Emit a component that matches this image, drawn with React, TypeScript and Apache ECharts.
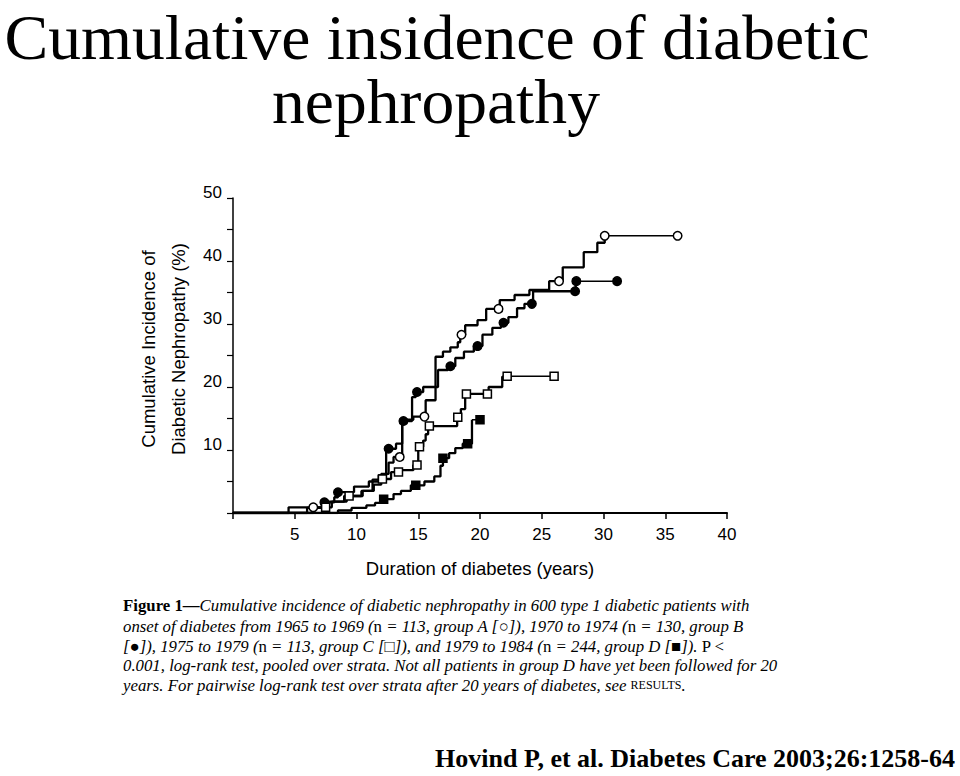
import React, { useEffect, useRef } from "react";
import * as echarts from "echarts";

// ---- Data (years, cumulative incidence %) ----
// Group A (1965-1969, open circles)
const aTimes = [0, 4.5, 7.4, 9.2, 10.4, 11.3, 12.0, 12.6, 13.0, 13.7, 14.6, 15.6, 16.4, 17.0, 17.6, 18.2, 18.4, 18.8, 19.8, 20.5, 21.6, 22.8, 24.0, 25.6, 26.7, 28.4, 29.5, 30.1];
const aValues = [0, 0.9, 1.8, 2.7, 3.5, 5.3, 6.2, 8.0, 8.9, 14.8, 15.3, 17.9, 24.8, 25.6, 26.3, 27.1, 28.3, 29.8, 30.6, 32.4, 33.8, 34.6, 35.4, 36.8, 39.0, 41.4, 42.9, 44.0];
const aMarkTimes = [6.5, 13.5, 15.5, 18.5, 21.5, 26.4, 30.1, 36.0];
const aMarkValues = [0.9, 8.9, 15.3, 28.3, 32.4, 36.8, 44.0, 44.0];

// Group B (1970-1974, filled circles)
const bTimes = [0, 6.0, 7.2, 8.2, 8.5, 9.8, 11.0, 11.8, 12.4, 13.2, 13.7, 14.5, 14.8, 15.4, 16.6, 17.4, 18.0, 18.7, 19.5, 20.2, 21.0, 21.7, 22.3, 23.0, 23.6, 24.3, 27.75];
const bValues = [0, 0.8, 1.7, 2.5, 3.3, 4.2, 5.0, 6.0, 10.2, 11.0, 14.6, 18.4, 19.2, 20.0, 22.7, 23.3, 24.6, 25.6, 26.5, 28.3, 29.4, 30.2, 31.1, 32.5, 33.2, 35.2, 36.8];
const bMarkTimes = [7.4, 8.5, 12.6, 13.8, 14.9, 17.6, 19.8, 21.9, 24.2, 27.7, 27.8, 31.1];
const bMarkValues = [1.7, 3.3, 10.2, 14.6, 19.2, 23.3, 26.5, 30.2, 33.2, 35.2, 36.8, 36.8];

// Group C (1975-1979, open squares)
const cTimes = [0, 6.5, 8.0, 9.0, 10.5, 11.4, 12.0, 12.8, 13.6, 14.6, 15.0, 15.4, 15.6, 15.8, 18.15, 18.45, 18.8, 20.7, 21.8];
const cValues = [0, 0.9, 1.8, 2.7, 3.5, 4.5, 5.4, 6.5, 6.8, 7.6, 10.5, 11.5, 12.5, 13.8, 15.2, 16.5, 18.9, 20.0, 21.7];
const cMarkTimes = [7.5, 9.4, 12.1, 13.4, 14.9, 15.1, 15.9, 18.2, 18.9, 20.6, 22.2, 26.0];
const cMarkValues = [0.9, 2.7, 5.4, 6.5, 7.6, 10.5, 13.8, 15.2, 18.9, 18.9, 21.7, 21.7];

// Group D (1979-1984, filled squares)
const dTimes = [0, 8.5, 9.6, 10.8, 11.5, 12.0, 13.0, 13.6, 14.4, 15.5, 16.3, 16.8, 17.0, 17.5, 18.0, 18.6, 19.35];
const dValues = [0, 0.4, 0.8, 1.2, 1.6, 2.2, 3.0, 3.5, 4.4, 5.0, 5.8, 7.5, 8.7, 9.5, 10.3, 11.0, 14.8];
const dMarkTimes = [12.2, 14.8, 17.0, 19.0, 20.0];
const dMarkValues = [2.2, 4.4, 8.7, 11.0, 14.8];

// ---- Texts ----
const titleLines = ["Cumulative insidence of diabetic", "nephropathy"];
const xAxisTitle = "Duration of diabetes (years)";
const yAxisTitleLines = ["Cumulative Incidence of", "Diabetic Nephropathy (%)"];
const captionLines = [
  "{b|Figure 1—}{i|Cumulative incidence of diabetic nephropathy in 600 type 1 diabetic patients with}",
  "{i|onset of diabetes from 1965 to 1969 (}{r|n}{i| = 113, group A [}{r|○}{i|]), 1970 to 1974 (}{r|n}{i| = 130, group B}",
  "{i|[}{r|●}{i|]), 1975 to 1979 (}{r|n}{i| = 113, group C [}{r|□}{i|]), and 1979 to 1984 (}{r|n}{i| = 244, group D [}{r|■}{i|]). }{r|P <}",
  "{i|0.001, log-rank test, pooled over strata. Not all patients in group D have yet been followed for 20}",
  "{i|years. For pairwise log-rank test over strata after 20 years of diabetes, see }{sc|RESULTS}{i|.}",
];
const citation = "Hovind P, et al. Diabetes Care 2003;26:1258-64";

const zip = (xs: number[], ys: number[]) => xs.map((x, i) => [x, ys[i]]);

const groups = [
  { name: "A", times: aTimes, values: aValues, mt: aMarkTimes, mv: aMarkValues, symbol: "circle", fill: "#ffffff", size: 8.5 },
  { name: "B", times: bTimes, values: bValues, mt: bMarkTimes, mv: bMarkValues, symbol: "circle", fill: "#000000", size: 8.5 },
  { name: "C", times: cTimes, values: cValues, mt: cMarkTimes, mv: cMarkValues, symbol: "rect", fill: "#ffffff", size: 8 },
  { name: "D", times: dTimes, values: dValues, mt: dMarkTimes, mv: dMarkValues, symbol: "rect", fill: "#000000", size: 8 },
];

export default function App() {
  const ref = useRef<HTMLDivElement>(null);

  useEffect(() => {
    if (!ref.current) return;
    const chart = echarts.init(ref.current, null, { renderer: "svg" });

    const series: any[] = [];
    groups.forEach((g) => {
      series.push({
        name: g.name + " curve",
        type: "line",
        step: "end",
        data: zip(g.times, g.values),
        showSymbol: false,
        symbol: "none",
        lineStyle: { color: "#000", width: 2.3 },
        z: 2,
      });
      const lastT = g.times[g.times.length - 1];
      const lastV = g.values[g.values.length - 1];
      const endT = g.mt[g.mt.length - 1];
      series.push({
        name: g.name + " tail",
        type: "line",
        data: [
          [lastT, lastV],
          [endT, lastV],
        ],
        showSymbol: false,
        symbol: "none",
        lineStyle: { color: "#000", width: 1.5 },
        z: 2,
      });
      series.push({
        name: g.name + " marks",
        type: "scatter",
        data: zip(g.mt, g.mv),
        symbol: g.symbol,
        symbolSize: g.size,
        itemStyle: { color: g.fill, borderColor: "#000", borderWidth: 1.5, opacity: 1 },
        z: 3,
      });
    });

    const serif = "'Liberation Serif', 'Times New Roman', serif";
    const sans = "'Liberation Sans', Arial, sans-serif";

    const graphic: any[] = [
      {
        type: "text",
        x: 437,
        y: 37,
        scaleX: 1.025,
        style: { text: titleLines[0], fontSize: 64, fontFamily: serif, fill: "#000", align: "center", textAlign: "center", verticalAlign: "middle", textVerticalAlign: "middle" },
      },
      {
        type: "text",
        x: 436,
        y: 101,
        scaleX: 1.025,
        style: { text: titleLines[1], fontSize: 64, fontFamily: serif, fill: "#000", align: "center", textAlign: "center", verticalAlign: "middle", textVerticalAlign: "middle" },
      },
      {
        type: "text",
        x: 480,
        y: 568,
        style: { text: xAxisTitle, fontSize: 18.5, fontFamily: sans, fill: "#000", align: "center", textAlign: "center", verticalAlign: "middle", textVerticalAlign: "middle" },
      },
      {
        type: "text",
        x: 148,
        y: 349,
        rotation: Math.PI / 2,
        style: { text: yAxisTitleLines[0], fontSize: 18.5, fontFamily: sans, fill: "#000", align: "center", textAlign: "center", verticalAlign: "middle", textVerticalAlign: "middle" },
      },
      {
        type: "text",
        x: 178,
        y: 349,
        rotation: Math.PI / 2,
        style: { text: yAxisTitleLines[1], fontSize: 18.5, fontFamily: sans, fill: "#000", align: "center", textAlign: "center", verticalAlign: "middle", textVerticalAlign: "middle" },
      },
      {
        type: "text",
        x: 955,
        y: 758,
        style: { text: citation, fontSize: 26, fontWeight: "bold", fontFamily: serif, fill: "#000", align: "right", textAlign: "right", verticalAlign: "middle", textVerticalAlign: "middle" },
      },
    ];

    const captionY = [605, 626, 646, 665, 685];
    const fs = 16.8;
    const rich = {
      b: { fontFamily: serif, fontWeight: "bold", fontSize: fs, fill: "#000", color: "#000" },
      i: { fontFamily: serif, fontStyle: "italic", fontSize: fs, fill: "#000", color: "#000" },
      r: { fontFamily: serif, fontSize: fs, fill: "#000", color: "#000" },
      sc: { fontFamily: serif, fontSize: 12, fill: "#000", color: "#000" },
    };
    captionLines.forEach((line, i) => {
      graphic.push({
        type: "text",
        x: 123,
        y: captionY[i],
        style: { text: line, rich, fontFamily: serif, fontSize: fs, fill: "#000", align: "left", textAlign: "left", verticalAlign: "middle", textVerticalAlign: "middle" },
      });
    });

    chart.setOption({
      animation: false,
      backgroundColor: "#ffffff",
      grid: { left: 233, top: 198, width: 494, height: 315, containLabel: false },
      xAxis: {
        type: "value",
        min: 0,
        max: 40,
        interval: 5,
        axisLine: { show: true, onZero: false, lineStyle: { color: "#000", width: 2 } },
        axisTick: { show: true, length: 6, lineStyle: { color: "#000", width: 1.5 } },
        axisLabel: {
          formatter: (v: number) => (v === 0 ? "" : String(v)),
          color: "#000",
          fontSize: 17,
          fontFamily: sans,
          margin: 13,
        },
        splitLine: { show: false },
      },
      yAxis: {
        type: "value",
        min: 0,
        max: 50,
        interval: 5,
        axisLine: { show: true, onZero: false, lineStyle: { color: "#000", width: 1.5 } },
        axisTick: { show: true, length: 6, lineStyle: { color: "#000", width: 1.2 } },
        axisLabel: {
          formatter: (v: number) => (v % 10 === 0 && v !== 0 ? "{v|" + v + "}" : ""),
          color: "#000",
          fontSize: 17,
          fontFamily: sans,
          margin: 11,
          rich: {
            v: { fontSize: 17, fontFamily: sans, color: "#000", padding: [0, 0, 11, 0] },
          },
        },
        splitLine: { show: false },
      },
      series,
      graphic,
    });

    return () => chart.dispose();
  }, []);

  return (
    <div
      ref={ref}
      style={{ position: "absolute", left: 0, top: 0, width: 960, height: 776, background: "#fff" }}
    />
  );
}
